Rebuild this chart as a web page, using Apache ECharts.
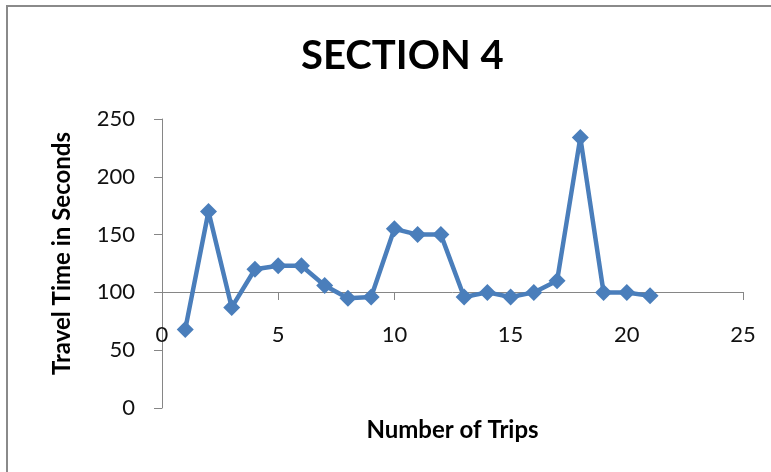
<!DOCTYPE html>
<html>
    <head>
        <meta charset="UTF-8">
        <title>Section 4</title>
        <script src="https://cdn.jsdelivr.net/npm/echarts@6/dist/echarts.min.js"></script>
        <style>
            html, body { margin: 0; padding: 0; background: #fff; }
        </style>
    </head>
    <body>
        <div id="chart" style="width:771px; height:472px;"></div>
        <script>
            // trip number and travel time in seconds
            var trips = [1, 2, 3, 4, 5, 6, 7, 8, 9, 10, 11, 12, 13, 14, 15, 16, 17, 18, 19, 20, 21];
            var travelTimes = [68, 170, 87, 120, 123, 123, 106, 95, 96, 155, 150, 150, 96, 100, 96, 100, 110, 234, 100, 100, 97];

            var points = trips.map(function (t, i) { return [t, travelTimes[i]]; });

            var chart = echarts.init(document.getElementById('chart'));
            var font = 'Lato, "Open Sans", sans-serif';
            var axisGray = '#868686';

            var option = {
                animation: false,
                graphic: [{
                    // outer chart frame
                    type: 'rect',
                    shape: { x: 7, y: 6, width: 820, height: 520 },
                    style: { fill: 'none', stroke: '#8a8a8a', lineWidth: 2 }
                }],
                title: {
                    text: 'SECTION 4',
                    left: 296,
                    top: 31,
                    textStyle: { fontFamily: font, fontSize: 40, fontWeight: 'bold', color: '#000' }
                },
                grid: { left: 162, right: 28, top: 119, bottom: 64 },
                xAxis: {
                    type: 'value',
                    min: 0,
                    max: 25,
                    interval: 5,
                    offset: -116, // axis crosses at 100 like the original
                    name: 'Number of Trips',
                    nameLocation: 'middle',
                    nameGap: 126,
                    nameTextStyle: { fontFamily: font, fontSize: 24, fontWeight: 'bold', color: '#000' },
                    axisLine: { onZero: false, lineStyle: { color: axisGray, width: 1 } },
                    axisTick: { show: true, length: 8, lineStyle: { color: axisGray } },
                    axisLabel: { margin: 32, fontFamily: font, fontSize: 22, color: '#111', showMinLabel: true, showMaxLabel: true },
                    splitLine: { show: false }
                },
                yAxis: {
                    type: 'value',
                    min: 0,
                    max: 250,
                    interval: 50,
                    name: 'Travel Time in Seconds',
                    nameLocation: 'middle',
                    nameGap: 88,
                    nameTextStyle: { fontFamily: font, fontSize: 24, fontWeight: 'bold', color: '#000', padding: [0, 0, 0, 20] },
                    axisLine: { show: true, lineStyle: { color: axisGray, width: 1 } },
                    axisTick: { show: true, length: 8, lineStyle: { color: axisGray } },
                    axisLabel: { margin: 27, fontFamily: font, fontSize: 22, color: '#111' },
                    splitLine: { show: false }
                },
                series: [{
                    name: 'Travel Time',
                    type: 'line',
                    data: points,
                    symbol: 'diamond',
                    symbolSize: 17,
                    lineStyle: { color: '#4a7ebb', width: 4.5 },
                    itemStyle: { color: '#4a7ebb' }
                }]
            };
            chart.setOption(option);
        </script>
    </body>
</html>
